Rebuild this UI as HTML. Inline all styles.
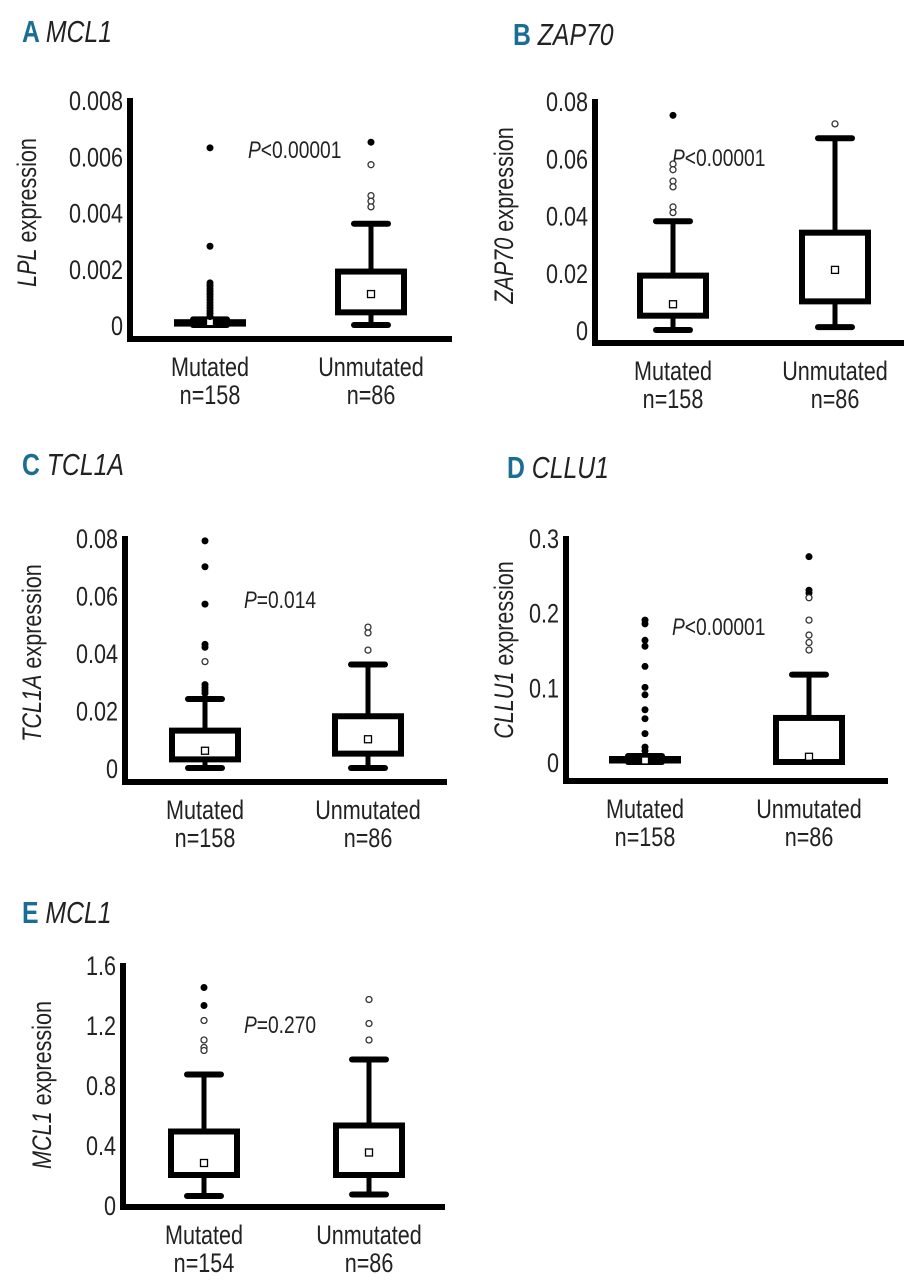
<!DOCTYPE html>
<html><head><meta charset="utf-8">
<style>
body{margin:0;background:#fff;}
svg{display:block;font-family:"Liberation Sans",sans-serif;}
</style></head>
<body>
<svg id="fig" width="904" height="1280" viewBox="0 0 904 1280" xmlns="http://www.w3.org/2000/svg"></svg>
<script>
// ---- data ----
const groups = ["Mutated","Unmutated"];
const aTicks = ["0","0.002","0.004","0.006","0.008"];
const aTickVals = [0,0.002,0.004,0.006,0.008];
const aBoxes = [[0,0.00005,0.0001,0.0001,0.0002],[0,0.00045,0.0011,0.0019,0.0036]]; // lo,q1,mean,q3,hi
const aFilled = [[0.0063,0.0028,0.0015,0.0014,0.0013,0.0012,0.0011,0.001,0.0009,0.0008,0.0007,0.0006,0.0005,0.0004,0.0003],[0.0065]];
const aOpen = [[],[0.0057,0.0046,0.0044,0.0042]];
const aN = ["n=158","n=86"];

const bTicks = ["0","0.02","0.04","0.06","0.08"];
const bTickVals = [0,0.02,0.04,0.06,0.08];
const bBoxes = [[0,0.005,0.009,0.019,0.038],[0.001,0.01,0.021,0.034,0.067]];
const bFilled = [[0.075],[]];
const bOpen = [[0.058,0.056,0.052,0.05,0.043,0.041],[0.072]];
const bN = ["n=158","n=86"];

const cTicks = ["0","0.02","0.04","0.06","0.08"];
const cTickVals = [0,0.02,0.04,0.06,0.08];
const cBoxes = [[0,0.003,0.006,0.013,0.024],[0,0.005,0.01,0.018,0.036]];
const cFilled = [[0.079,0.07,0.057,0.043,0.042,0.029,0.028,0.027,0.026],[]];
const cOpen = [[0.037],[0.049,0.047,0.041]];
const cN = ["n=158","n=86"];

const dTicks = ["0","0.1","0.2","0.3"];
const dTickVals = [0,0.1,0.2,0.3];
const dBoxes = [[0,0.002,0.002,0.004,0.008],[0,0,0.007,0.059,0.117]];
const dFilled = [[0.19,0.185,0.163,0.155,0.128,0.1,0.09,0.07,0.058,0.038,0.02,0.015],[0.275,0.23,0.226]];
const dOpen = [[],[0.22,0.19,0.17,0.16,0.15]];
const dN = ["n=158","n=86"];

const eTicks = ["0","0.4","0.8","1.2","1.6"];
const eTickVals = [0,0.4,0.8,1.2,1.6];
const eBoxes = [[0.06,0.2,0.28,0.49,0.87],[0.07,0.2,0.35,0.53,0.97]];
const eFilled = [[1.45,1.33],[]];
const eOpen = [[1.23,1.1,1.05,1.03],[1.37,1.21,1.1]];
const eN = ["n=154","n=86"];

const NS="http://www.w3.org/2000/svg";
const svg=document.getElementById('fig');
const SX=0.8;
function mk(tag,attrs,parent,txt){const e=document.createElementNS(NS,tag);for(const k in attrs)e.setAttribute(k,attrs[k]);if(txt!==undefined)e.textContent=txt;(parent||svg).appendChild(e);return e;}
function ctext(parent,x,y,size,anchor,content,rot){
  const tr=rot?`translate(${x},${y}) rotate(-90) scale(${SX},1)`:`translate(${x},${y}) scale(${SX},1)`;
  return mk('text',{transform:tr,x:0,y:0,'font-size':size,'text-anchor':anchor,fill:'#222'},parent,content);
}

function panel(cfg){
  const g=mk('g',{});
  
  
  const y=v=>cfg.y0+(v-cfg.vmin)/(cfg.vmax-cfg.vmin)*(cfg.y1-cfg.y0);
  // title
  const t=ctext(g,cfg.tx,cfg.ty,31,'start');
  
  
  mk('tspan',{fill:'#1a6e96','font-weight':'bold'},t,cfg.id+' ');
  mk('tspan',{'font-style':'italic',fill:'#222'},t,cfg.gene);
  // axes
  const ya=mk('line',{x1:cfg.ax,y1:y(cfg.vmax)-2,x2:cfg.ax,y2:cfg.xaxY,stroke:'#000','stroke-width':6},g);
  
  
  const xa=mk('line',{x1:cfg.ax-3,y1:cfg.xaxY,x2:cfg.ax+322,y2:cfg.xaxY,stroke:'#000','stroke-width':6},g);
  
  
  cfg.tickVals.forEach((v,i)=>{
    const tl=ctext(g,cfg.ax-7,y(v)+10,27,'end',cfg.ticks[i]);
    
    
  });
  const yt=ctext(g,cfg.ax-cfg.ylOff,(y(cfg.vmax)+y(cfg.vmin))/2,27,'middle',undefined,true);
  
  
  mk('tspan',{'font-style':'italic'},yt,cfg.ylab);
  mk('tspan',{},yt,' expression');
  const p=ctext(g,cfg.px,cfg.py,24,'start');
  
  
  mk('tspan',{'font-style':'italic'},p,'P');
  mk('tspan',{},p,cfg.ptxt);
  groups.forEach((gn,i)=>{
    const cx=cfg.cx[i], b=cfg.boxes[i], hw=33, cw=17;
    const wl=mk('line',{x1:cx,y1:y(b[0]),x2:cx,y2:y(b[4]),stroke:'#000','stroke-width':5},g);
    
    
    [b[0],b[4]].forEach(v=>{
      const c=mk('line',{x1:cx-cw,y1:y(v),x2:cx+cw,y2:y(v),stroke:'#000','stroke-width':6,'stroke-linecap':'round'},g);
      
      
    });
    const top=y(b[3]),bot=y(b[1]);
    const r=mk('rect',{x:cx-hw,y:top,width:2*hw,height:Math.max(bot-top,1),fill:'#fff',stroke:'#000','stroke-width':6},g);
    
    
    const m=mk('rect',{x:cx-3.5,y:y(b[2])-3.5,width:7,height:7,fill:'#fff',stroke:'#000','stroke-width':1.3},g);
    
    
    cfg.filled[i].forEach(v=>{
      const d=mk('circle',{cx:cx,cy:y(v),r:3.5,fill:'#000'},g);
      
      
    });
    cfg.open[i].forEach(v=>{
      const d=mk('circle',{cx:cx,cy:y(v),r:3,fill:'#fff',stroke:'#333','stroke-width':1.3},g);
      
      
    });
    const gl=ctext(g,cx,cfg.xaxY+37,27,'middle',gn);
    
    
    const nl=ctext(g,cx,cfg.xaxY+65,27,'middle',cfg.n[i]);
    
    
  });
}

panel({id:'A',gene:'MCL1',tx:22,ty:42,ax:130,y0:325,y1:100,vmin:0,vmax:0.008,xaxY:339,cx:[210,371],ticks:aTicks,tickVals:aTickVals,boxes:aBoxes,filled:aFilled,open:aOpen,n:aN,ylab:'LPL',ylOff:94,px:248,py:158,ptxt:'<0.00001'});
panel({id:'B',gene:'ZAP70',tx:513,ty:45,ax:595,y0:330,y1:101,vmin:0,vmax:0.08,xaxY:343,cx:[673,835],ticks:bTicks,tickVals:bTickVals,boxes:bBoxes,filled:bFilled,open:bOpen,n:bN,ylab:'ZAP70',ylOff:82,px:672,py:166,ptxt:'<0.00001'});
panel({id:'C',gene:'TCL1A',tx:22,ty:475,ax:125,y0:768,y1:538,vmin:0,vmax:0.08,xaxY:782,cx:[205,368],ticks:cTicks,tickVals:cTickVals,boxes:cBoxes,filled:cFilled,open:cOpen,n:cN,ylab:'TCL1A',ylOff:84,px:244,py:608,ptxt:'=0.014'});
panel({id:'D',gene:'CLLU1',tx:507,ty:478,ax:566,y0:762,y1:538,vmin:0,vmax:0.3,xaxY:781,cx:[645,809],ticks:dTicks,tickVals:dTickVals,boxes:dBoxes,filled:dFilled,open:dOpen,n:dN,ylab:'CLLU1',ylOff:53,px:672,py:635,ptxt:'<0.00001'});
panel({id:'E',gene:'MCL1',tx:22,ty:923,ax:123,y0:1205,y1:965,vmin:0,vmax:1.6,xaxY:1207,cx:[204,369],ticks:eTicks,tickVals:eTickVals,boxes:eBoxes,filled:eFilled,open:eOpen,n:eN,ylab:'MCL1',ylOff:72,px:244,py:1033,ptxt:'=0.270'});
</script>
</body></html>
